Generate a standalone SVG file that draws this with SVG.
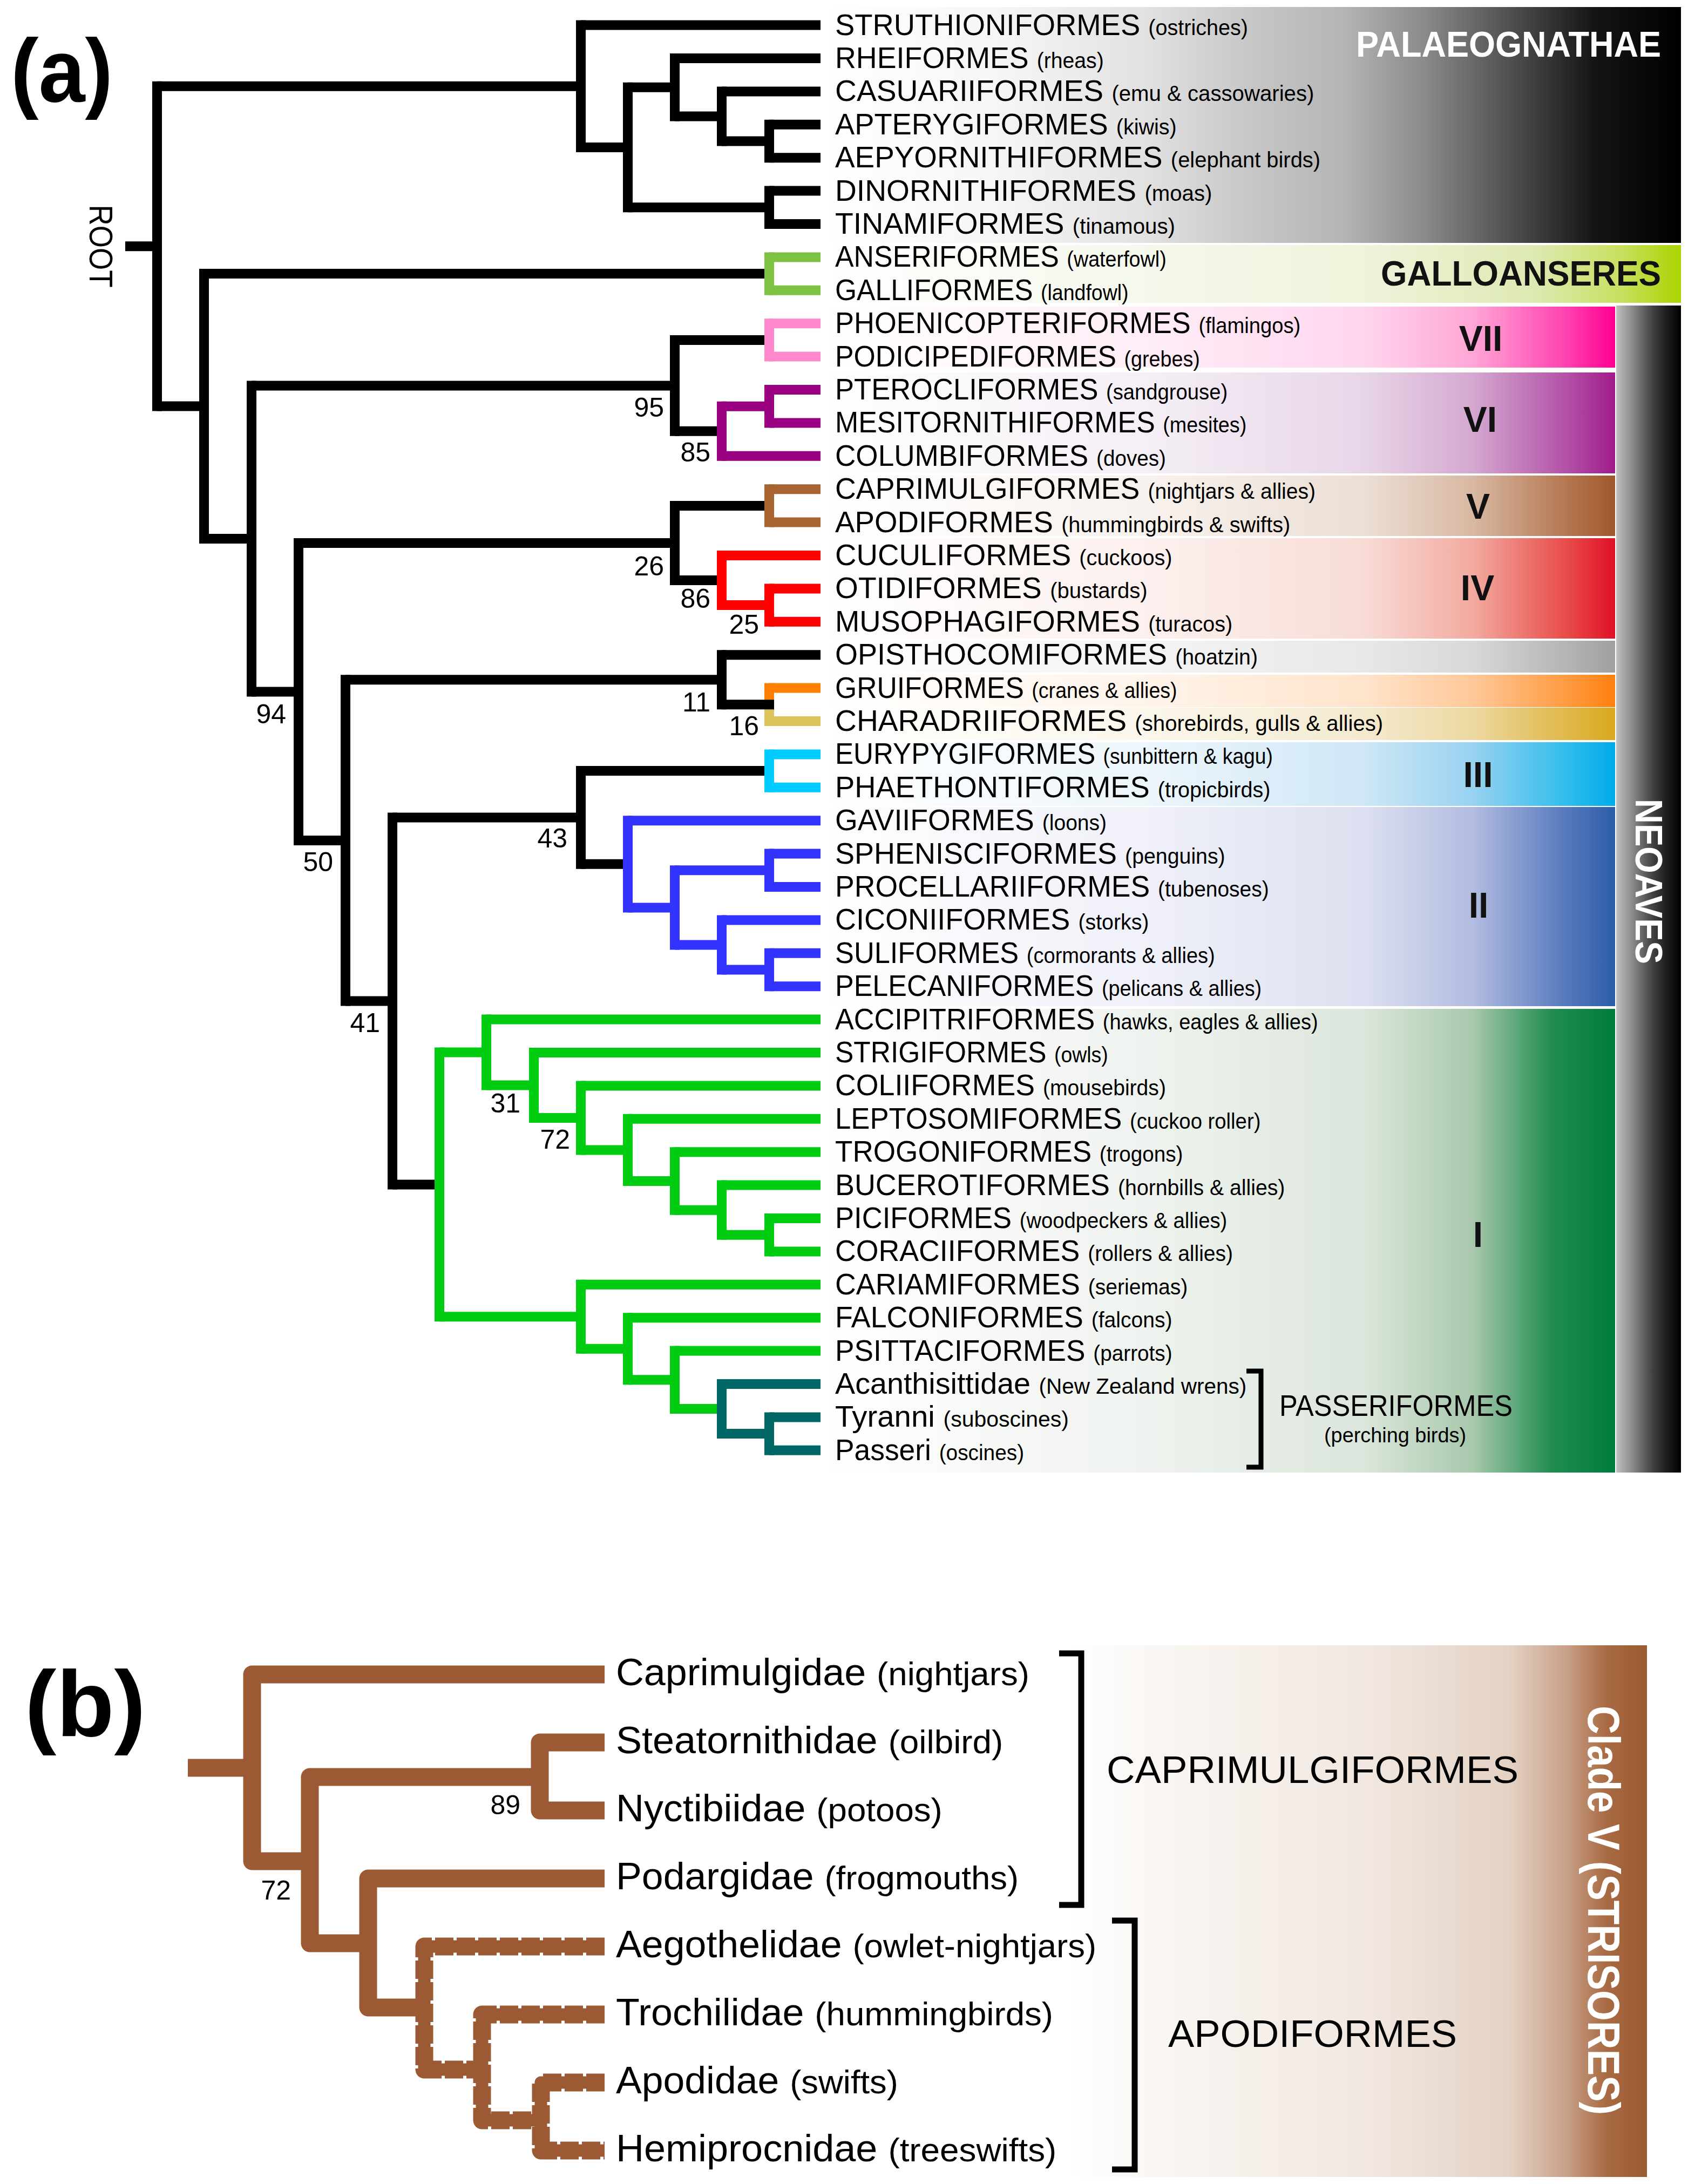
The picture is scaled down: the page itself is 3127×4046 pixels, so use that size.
<svg xmlns="http://www.w3.org/2000/svg" width="3127" height="4046" viewBox="0 0 3127 4046">
<style>
.t{font-family:"Liberation Sans",Arial,sans-serif}
.lf{font-size:55px;fill:#000}
.lf tspan{font-size:40px}
.lb{font-size:70px;fill:#000}
.lb tspan{font-size:62px}
.bs{font-size:50px;text-anchor:end;fill:#000}
.rn{font-size:66px;font-weight:bold;text-anchor:middle;fill:#111}
.h{fill:none;stroke-width:18;stroke-linecap:butt}
.v{fill:none;stroke-width:18;stroke-linecap:square}
.bt{fill:none;stroke:#9b5a33;stroke-width:33;stroke-linecap:butt;stroke-linejoin:round}
.bi{fill:none;stroke:#9b5a33;stroke-width:23;stroke-linecap:butt;stroke-linejoin:round}
.dot{stroke-dasharray:34 6}
.brk{fill:none;stroke:#000;stroke-linejoin:miter}
</style>
<defs>
<linearGradient id="gPal" gradientUnits="userSpaceOnUse" x1="1530" y1="0" x2="3114" y2="0">
<stop offset="0" stop-color="#fff"/><stop offset="0.2" stop-color="#f6f6f6"/><stop offset="0.37" stop-color="#e2e2e2"/><stop offset="0.5" stop-color="#c6c6c6"/><stop offset="0.6" stop-color="#b6b6b6"/><stop offset="0.7" stop-color="#8a8a8a"/><stop offset="0.8" stop-color="#505050"/><stop offset="0.9" stop-color="#141414"/><stop offset="1" stop-color="#000"/>
</linearGradient>
<linearGradient id="gGal" gradientUnits="userSpaceOnUse" x1="1530" y1="0" x2="3114" y2="0">
<stop offset="0" stop-color="#fff"/><stop offset="0.37" stop-color="#f5f8ec"/><stop offset="0.64" stop-color="#eef3da"/><stop offset="0.83" stop-color="#dde9b2"/><stop offset="0.93" stop-color="#c8e060"/><stop offset="1" stop-color="#aad400"/>
</linearGradient>
<linearGradient id="g7" gradientUnits="userSpaceOnUse" x1="1530" y1="0" x2="2992" y2="0">
<stop offset="0" stop-color="#fff"/><stop offset="0.4" stop-color="#ffeef7"/><stop offset="0.68" stop-color="#ffd6ee"/><stop offset="0.82" stop-color="#ffa6d6"/><stop offset="0.94" stop-color="#ff40b0"/><stop offset="1" stop-color="#ff0090"/>
</linearGradient>
<linearGradient id="g6" gradientUnits="userSpaceOnUse" x1="1530" y1="0" x2="2992" y2="0">
<stop offset="0" stop-color="#fff"/><stop offset="0.4" stop-color="#f5eff6"/><stop offset="0.68" stop-color="#e8d6e8"/><stop offset="0.82" stop-color="#d4a8d0"/><stop offset="0.94" stop-color="#b250a6"/><stop offset="1" stop-color="#a01c8a"/>
</linearGradient>
<linearGradient id="g5" gradientUnits="userSpaceOnUse" x1="1530" y1="0" x2="2992" y2="0">
<stop offset="0" stop-color="#fff"/><stop offset="0.4" stop-color="#f8f2ee"/><stop offset="0.68" stop-color="#ecdfd5"/><stop offset="0.82" stop-color="#d8b8a2"/><stop offset="0.94" stop-color="#b47650"/><stop offset="1" stop-color="#a0582c"/>
</linearGradient>
<linearGradient id="g4" gradientUnits="userSpaceOnUse" x1="1530" y1="0" x2="2992" y2="0">
<stop offset="0" stop-color="#fff"/><stop offset="0.4" stop-color="#fcf1ef"/><stop offset="0.68" stop-color="#f8dcd6"/><stop offset="0.82" stop-color="#f2aaa0"/><stop offset="0.94" stop-color="#e84a48"/><stop offset="1" stop-color="#e01028"/>
</linearGradient>
<linearGradient id="gHo" gradientUnits="userSpaceOnUse" x1="1530" y1="0" x2="2992" y2="0">
<stop offset="0" stop-color="#fff"/><stop offset="0.4" stop-color="#f4f4f4"/><stop offset="0.68" stop-color="#e8e8e8"/><stop offset="0.82" stop-color="#d8d8d8"/><stop offset="0.94" stop-color="#b4b4b4"/><stop offset="1" stop-color="#a0a0a0"/>
</linearGradient>
<linearGradient id="gOr" gradientUnits="userSpaceOnUse" x1="1530" y1="0" x2="2992" y2="0">
<stop offset="0" stop-color="#fff"/><stop offset="0.4" stop-color="#fff4ea"/><stop offset="0.68" stop-color="#ffe4cc"/><stop offset="0.82" stop-color="#ffc898"/><stop offset="0.94" stop-color="#ff9a40"/><stop offset="1" stop-color="#ff8010"/>
</linearGradient>
<linearGradient id="gYe" gradientUnits="userSpaceOnUse" x1="1530" y1="0" x2="2992" y2="0">
<stop offset="0" stop-color="#fff"/><stop offset="0.4" stop-color="#fbf7ec"/><stop offset="0.68" stop-color="#f4ead0"/><stop offset="0.82" stop-color="#ecd8a0"/><stop offset="0.94" stop-color="#e0b848"/><stop offset="1" stop-color="#d8a820"/>
</linearGradient>
<linearGradient id="g3" gradientUnits="userSpaceOnUse" x1="1530" y1="0" x2="2992" y2="0">
<stop offset="0" stop-color="#fff"/><stop offset="0.4" stop-color="#edf6fb"/><stop offset="0.68" stop-color="#cfe7f6"/><stop offset="0.82" stop-color="#98d2f0"/><stop offset="0.94" stop-color="#30bcec"/><stop offset="1" stop-color="#00acea"/>
</linearGradient>
<linearGradient id="g2" gradientUnits="userSpaceOnUse" x1="1530" y1="0" x2="2992" y2="0">
<stop offset="0" stop-color="#fff"/><stop offset="0.4" stop-color="#f0f1f9"/><stop offset="0.68" stop-color="#dde0f0"/><stop offset="0.82" stop-color="#b2bce0"/><stop offset="0.94" stop-color="#5478bc"/><stop offset="1" stop-color="#2c5ca8"/>
</linearGradient>
<linearGradient id="g1" gradientUnits="userSpaceOnUse" x1="1530" y1="0" x2="2992" y2="0">
<stop offset="0" stop-color="#fff"/><stop offset="0.4" stop-color="#eff3ef"/><stop offset="0.68" stop-color="#dce6dc"/><stop offset="0.82" stop-color="#a8c8ac"/><stop offset="0.92" stop-color="#208c50"/><stop offset="1" stop-color="#007c3c"/>
</linearGradient>
<linearGradient id="gNeo" gradientUnits="userSpaceOnUse" x1="2994" y1="0" x2="3114" y2="0">
<stop offset="0" stop-color="#c0c0c0"/><stop offset="0.25" stop-color="#8a8a8a"/><stop offset="0.55" stop-color="#444"/><stop offset="0.8" stop-color="#1a1a1a"/><stop offset="1" stop-color="#000"/>
</linearGradient>
<linearGradient id="gV" gradientUnits="userSpaceOnUse" x1="1985" y1="0" x2="3051" y2="0">
<stop offset="0" stop-color="#fff"/><stop offset="0.13" stop-color="#faf7f4"/><stop offset="0.52" stop-color="#f1e7e0"/><stop offset="0.76" stop-color="#e4d2c4"/><stop offset="0.86" stop-color="#c8a088"/><stop offset="0.93" stop-color="#a86a42"/><stop offset="1" stop-color="#9a5a32"/>
</linearGradient>
</defs>
<rect width="3127" height="4046" fill="#fff"/>

<g id="bands">
<rect x="1530" y="13" width="1584" height="437" fill="url(#gPal)"/>
<rect x="1530" y="454" width="1584" height="107" fill="url(#gGal)"/>
<rect x="1530" y="568" width="1462" height="113" fill="url(#g7)"/>
<rect x="1530" y="690" width="1462" height="187" fill="url(#g6)"/>
<rect x="1530" y="881" width="1462" height="112" fill="url(#g5)"/>
<rect x="1530" y="997" width="1462" height="186" fill="url(#g4)"/>
<rect x="1530" y="1187" width="1462" height="59" fill="url(#gHo)"/>
<rect x="1530" y="1250" width="1462" height="60" fill="url(#gOr)"/>
<rect x="1530" y="1311" width="1462" height="60" fill="url(#gYe)"/>
<rect x="1530" y="1375" width="1462" height="118" fill="url(#g3)"/>
<rect x="1530" y="1495" width="1462" height="369" fill="url(#g2)"/>
<rect x="1530" y="1869" width="1462" height="859" fill="url(#g1)"/>
<rect x="2994" y="566" width="120" height="2162" fill="url(#gNeo)"/>
<rect x="1985" y="3048" width="1066" height="985" fill="url(#gV)"/>
</g>

<g id="group-labels" class="t">
<text x="2512" y="105" font-size="66" font-weight="bold" fill="#fff" textLength="565" lengthAdjust="spacingAndGlyphs">PALAEOGNATHAE</text>
<text x="2558" y="529" font-size="64" font-weight="bold" fill="#111" textLength="519" lengthAdjust="spacingAndGlyphs">GALLOANSERES</text>
<text class="rn" x="2743" y="650">VII</text>
<text class="rn" x="2742" y="800">VI</text>
<text class="rn" x="2738" y="961">V</text>
<text class="rn" x="2737" y="1112">IV</text>
<text class="rn" x="2738" y="1458">III</text>
<text class="rn" x="2739" y="1700">II</text>
<text class="rn" x="2738" y="2310">I</text>
<text transform="translate(3030,1633) rotate(90)" font-size="70" font-weight="bold" fill="#fff" text-anchor="middle" textLength="306" lengthAdjust="spacingAndGlyphs">NEOAVES</text>
<text x="2370" y="2623" font-size="56" textLength="432" lengthAdjust="spacingAndGlyphs">PASSERIFORMES</text>
<text x="2453" y="2672" font-size="38" textLength="263" lengthAdjust="spacingAndGlyphs">(perching birds)</text>
<text transform="translate(2942,3539) rotate(90)" font-size="84" font-weight="bold" fill="#fff" text-anchor="middle" textLength="758" lengthAdjust="spacingAndGlyphs">Clade V (STRISORES)</text>
<text x="2050" y="3303" font-size="70" textLength="763" lengthAdjust="spacingAndGlyphs">CAPRIMULGIFORMES</text>
<text x="2164" y="3792" font-size="70" textLength="535" lengthAdjust="spacingAndGlyphs">APODIFORMES</text>
<text x="20" y="188" font-size="165" font-weight="bold" textLength="189" lengthAdjust="spacingAndGlyphs">(a)</text>
<text x="46" y="3216" font-size="172" font-weight="bold" textLength="224" lengthAdjust="spacingAndGlyphs">(b)</text>
<text transform="translate(166,456) rotate(90)" font-size="62" text-anchor="middle" textLength="153" lengthAdjust="spacingAndGlyphs">ROOT</text>
</g>

<g id="brackets">
<path class="brk" stroke-width="9" d="M2309 2540H2336V2718H2309"/>
<path class="brk" stroke-width="11" d="M1962 3063H2003V3529H1962"/>
<path class="brk" stroke-width="11" d="M2060 3558H2102V4019H2060"/>
</g>

<g id="connectors">
<path class="h" stroke="#000" d="M232 456.2H291M291 159.8H1076M291 752.5H378M1076 46.6H1520M1076 273H1163M1163 161.7H1250M1163 384.3H1425M1250 108H1520M1250 215.5H1337M1337 169.4H1520M1337 261.5H1425M1425 230.8H1520M1425 292.2H1520M1425 353.6H1520M1425 415H1520M378 507.1H1425M378 997.9H466M466 714.4H1250M466 1281.4H553M1250 629.9H1425M1250 798.8H1337M553 1006H1250M553 1556.9H640M1250 936.9H1425M1250 1075H1337M640 1259.2H1337M640 1854.5H727M1337 1213.2H1520M727 1514.5H1076M727 2194.4H814M1076 1428.1H1425M1076 1600.8H1163"/>
<path class="h" stroke="#7dc242" d="M1425 476.4H1520M1425 537.8H1520"/>
<path class="h" stroke="#ff88cc" d="M1425 599.2H1520M1425 660.6H1520"/>
<path class="h" stroke="#990080" d="M1337 752.7H1425M1337 844.8H1520M1425 722H1520M1425 783.4H1520"/>
<path class="h" stroke="#a86430" d="M1425 906.2H1520M1425 967.6H1520"/>
<path class="h" stroke="#ff0000" d="M1337 1029H1520M1337 1121.1H1425M1425 1090.4H1520M1425 1151.8H1520"/>
<path class="h" stroke="#ff8000" d="M1425 1274.6H1520"/>
<path class="h" stroke="#dcc35a" d="M1425 1336H1520"/>
<path class="h" stroke="#00ccff" d="M1425 1397.4H1520M1425 1458.8H1520"/>
<path class="h" stroke="#3333ff" d="M1163 1520.2H1520M1163 1681.4H1250M1250 1612.3H1425M1250 1750.5H1337M1425 1581.6H1520M1425 1643H1520M1337 1704.4H1520M1337 1796.5H1425M1425 1765.8H1520M1425 1827.2H1520"/>
<path class="h" stroke="#00cc11" d="M814 1949.5H901M814 2439.3H1076M901 1888.6H1520M901 2010.4H989M989 1950H1520M989 2070.9H1076M1076 2011.4H1520M1076 2130.4H1163M1163 2072.8H1520M1163 2187.9H1250M1250 2134.2H1520M1250 2241.65H1337M1337 2195.6H1520M1337 2287.7H1425M1425 2257H1520M1425 2318.4H1520M1076 2379.8H1520M1076 2498.8H1163M1163 2441.2H1520M1163 2556.3H1250M1250 2502.6H1520M1250 2610H1337"/>
<path class="h" stroke="#006666" d="M1337 2564H1520M1337 2656.1H1425M1425 2625.4H1520M1425 2686.8H1520"/>
<path class="v" stroke="#000" d="M291 159.8V752.5M1076 46.6V273M1163 161.7V384.3M1250 108V215.5M1337 169.4V261.5M1425 230.8V292.2M1425 353.6V415M378 507.1V997.9M466 714.4V1281.4M1250 629.9V798.8M553 1006V1556.9M1250 936.9V1075M640 1259.2V1854.5M1337 1213.2V1305.3M727 1514.5V2194.4M1076 1428.1V1600.8"/>
<path class="v" stroke="#7dc242" d="M1425 476.4V537.8"/>
<path class="v" stroke="#ff88cc" d="M1425 599.2V660.6"/>
<path class="v" stroke="#990080" d="M1337 752.7V844.8M1425 722V783.4"/>
<path class="v" stroke="#a86430" d="M1425 906.2V967.6"/>
<path class="v" stroke="#ff0000" d="M1337 1029V1121.1M1425 1090.4V1151.8"/>
<path class="v" stroke="#ff8000" d="M1425 1274.6V1305.3"/>
<path class="v" stroke="#dcc35a" d="M1425 1305.3V1336"/>
<path class="v" stroke="#00ccff" d="M1425 1397.4V1458.8"/>
<path class="v" stroke="#3333ff" d="M1163 1520.2V1681.4M1250 1612.3V1750.5M1425 1581.6V1643M1337 1704.4V1796.5M1425 1765.8V1827.2"/>
<path class="v" stroke="#00cc11" d="M814 1949.5V2439.3M901 1888.6V2010.4M989 1950V2070.9M1076 2011.4V2130.4M1163 2072.8V2187.9M1250 2134.2V2241.65M1337 2195.6V2287.7M1425 2257V2318.4M1076 2379.8V2498.8M1163 2441.2V2556.3M1250 2502.6V2610"/>
<path class="v" stroke="#006666" d="M1337 2564V2656.1M1425 2625.4V2686.8"/>
<path class="h" stroke="#000" d="M1337 1305.3H1434"/>
<path class="bt" d="M348 3275H467M1120 3102H467V3448H574M1000 3292H574V3600H682M1120 3228H1000V3354H1120M1120 3480H682V3719H786"/>
<path class="bi" d="M1120 3606H786V3834H893M1120 3732H893V3928H1002M1120 3858H1002V3984H1120"/>
<path class="bt dot" d="M1120 3606H786V3834H893"/>
<path class="bt dot" d="M1120 3732H893V3928H1002"/>
<path class="bt dot" d="M1120 3858H1002V3984H1120"/>
</g>

<g id="support" class="t">
<text class="bs" x="1230" y="772">95</text>
<text class="bs" x="1316" y="855">85</text>
<text class="bs" x="1230" y="1066">26</text>
<text class="bs" x="1316" y="1126">86</text>
<text class="bs" x="1406" y="1174">25</text>
<text class="bs" x="530" y="1340">94</text>
<text class="bs" x="1316" y="1318">11</text>
<text class="bs" x="1406" y="1362">16</text>
<text class="bs" x="617" y="1614">50</text>
<text class="bs" x="1051" y="1570">43</text>
<text class="bs" x="704" y="1912">41</text>
<text class="bs" x="964" y="2061">31</text>
<text class="bs" x="1056" y="2128">72</text>
<text class="bs" x="964" y="3361">89</text>
<text class="bs" x="539" y="3519">72</text>
</g>

<g id="leaves-a" class="t" transform="translate(1547 0) scale(0.9 1)">
<g id="struthioniformes"><text class="lf" x="0" y="65" textLength="850" lengthAdjust="spacingAndGlyphs">STRUTHIONIFORMES <tspan>(ostriches)</tspan></text></g>
<g id="rheiformes"><text class="lf" x="0" y="126" textLength="553" lengthAdjust="spacingAndGlyphs">RHEIFORMES <tspan>(rheas)</tspan></text></g>
<g id="casuariiformes"><text class="lf" x="0" y="187" textLength="986" lengthAdjust="spacingAndGlyphs">CASUARIIFORMES <tspan>(emu &amp; cassowaries)</tspan></text></g>
<g id="apterygiformes"><text class="lf" x="0" y="249" textLength="703" lengthAdjust="spacingAndGlyphs">APTERYGIFORMES <tspan>(kiwis)</tspan></text></g>
<g id="aepyornithiformes"><text class="lf" x="0" y="310" textLength="999" lengthAdjust="spacingAndGlyphs">AEPYORNITHIFORMES <tspan>(elephant birds)</tspan></text></g>
<g id="dinornithiformes"><text class="lf" x="0" y="372" textLength="776" lengthAdjust="spacingAndGlyphs">DINORNITHIFORMES <tspan>(moas)</tspan></text></g>
<g id="tinamiformes"><text class="lf" x="0" y="433" textLength="700" lengthAdjust="spacingAndGlyphs">TINAMIFORMES <tspan>(tinamous)</tspan></text></g>
<g id="anseriformes"><text class="lf" x="0" y="494" textLength="682" lengthAdjust="spacingAndGlyphs">ANSERIFORMES <tspan>(waterfowl)</tspan></text></g>
<g id="galliformes"><text class="lf" x="0" y="556" textLength="604" lengthAdjust="spacingAndGlyphs">GALLIFORMES <tspan>(landfowl)</tspan></text></g>
<g id="phoenicopteriformes"><text class="lf" x="0" y="617" textLength="958" lengthAdjust="spacingAndGlyphs">PHOENICOPTERIFORMES <tspan>(flamingos)</tspan></text></g>
<g id="podicipediformes"><text class="lf" x="0" y="679" textLength="751" lengthAdjust="spacingAndGlyphs">PODICIPEDIFORMES <tspan>(grebes)</tspan></text></g>
<g id="pterocliformes"><text class="lf" x="0" y="740" textLength="808" lengthAdjust="spacingAndGlyphs">PTEROCLIFORMES <tspan>(sandgrouse)</tspan></text></g>
<g id="mesitornithiformes"><text class="lf" x="0" y="801" textLength="847" lengthAdjust="spacingAndGlyphs">MESITORNITHIFORMES <tspan>(mesites)</tspan></text></g>
<g id="columbiformes"><text class="lf" x="0" y="863" textLength="681" lengthAdjust="spacingAndGlyphs">COLUMBIFORMES <tspan>(doves)</tspan></text></g>
<g id="caprimulgiformes"><text class="lf" x="0" y="924" textLength="989" lengthAdjust="spacingAndGlyphs">CAPRIMULGIFORMES <tspan>(nightjars &amp; allies)</tspan></text></g>
<g id="apodiformes"><text class="lf" x="0" y="986" textLength="937" lengthAdjust="spacingAndGlyphs">APODIFORMES <tspan>(hummingbirds &amp; swifts)</tspan></text></g>
<g id="cuculiformes"><text class="lf" x="0" y="1047" textLength="694" lengthAdjust="spacingAndGlyphs">CUCULIFORMES <tspan>(cuckoos)</tspan></text></g>
<g id="otidiformes"><text class="lf" x="0" y="1108" textLength="643" lengthAdjust="spacingAndGlyphs">OTIDIFORMES <tspan>(bustards)</tspan></text></g>
<g id="musophagiformes"><text class="lf" x="0" y="1170" textLength="818" lengthAdjust="spacingAndGlyphs">MUSOPHAGIFORMES <tspan>(turacos)</tspan></text></g>
<g id="opisthocomiformes"><text class="lf" x="0" y="1231" textLength="870" lengthAdjust="spacingAndGlyphs">OPISTHOCOMIFORMES <tspan>(hoatzin)</tspan></text></g>
<g id="gruiformes"><text class="lf" x="0" y="1293" textLength="704" lengthAdjust="spacingAndGlyphs">GRUIFORMES <tspan>(cranes &amp; allies)</tspan></text></g>
<g id="charadriiformes"><text class="lf" x="0" y="1354" textLength="1128" lengthAdjust="spacingAndGlyphs">CHARADRIIFORMES <tspan>(shorebirds, gulls &amp; allies)</tspan></text></g>
<g id="eurypygiformes"><text class="lf" x="0" y="1415" textLength="901" lengthAdjust="spacingAndGlyphs">EURYPYGIFORMES <tspan>(sunbittern &amp; kagu)</tspan></text></g>
<g id="phaethontiformes"><text class="lf" x="0" y="1477" textLength="896" lengthAdjust="spacingAndGlyphs">PHAETHONTIFORMES <tspan>(tropicbirds)</tspan></text></g>
<g id="gaviiformes"><text class="lf" x="0" y="1538" textLength="559" lengthAdjust="spacingAndGlyphs">GAVIIFORMES <tspan>(loons)</tspan></text></g>
<g id="sphenisciformes"><text class="lf" x="0" y="1600" textLength="803" lengthAdjust="spacingAndGlyphs">SPHENISCIFORMES <tspan>(penguins)</tspan></text></g>
<g id="procellariiformes"><text class="lf" x="0" y="1661" textLength="893" lengthAdjust="spacingAndGlyphs">PROCELLARIIFORMES <tspan>(tubenoses)</tspan></text></g>
<g id="ciconiiformes"><text class="lf" x="0" y="1722" textLength="646" lengthAdjust="spacingAndGlyphs">CICONIIFORMES <tspan>(storks)</tspan></text></g>
<g id="suliformes"><text class="lf" x="0" y="1784" textLength="782" lengthAdjust="spacingAndGlyphs">SULIFORMES <tspan>(cormorants &amp; allies)</tspan></text></g>
<g id="pelecaniformes"><text class="lf" x="0" y="1845" textLength="878" lengthAdjust="spacingAndGlyphs">PELECANIFORMES <tspan>(pelicans &amp; allies)</tspan></text></g>
<g id="accipitriformes"><text class="lf" x="0" y="1907" textLength="994" lengthAdjust="spacingAndGlyphs">ACCIPITRIFORMES <tspan>(hawks, eagles &amp; allies)</tspan></text></g>
<g id="strigiformes"><text class="lf" x="0" y="1968" textLength="562" lengthAdjust="spacingAndGlyphs">STRIGIFORMES <tspan>(owls)</tspan></text></g>
<g id="coliiformes"><text class="lf" x="0" y="2029" textLength="681" lengthAdjust="spacingAndGlyphs">COLIIFORMES <tspan>(mousebirds)</tspan></text></g>
<g id="leptosomiformes"><text class="lf" x="0" y="2091" textLength="876" lengthAdjust="spacingAndGlyphs">LEPTOSOMIFORMES <tspan>(cuckoo roller)</tspan></text></g>
<g id="trogoniformes"><text class="lf" x="0" y="2152" textLength="716" lengthAdjust="spacingAndGlyphs">TROGONIFORMES <tspan>(trogons)</tspan></text></g>
<g id="bucerotiformes"><text class="lf" x="0" y="2214" textLength="926" lengthAdjust="spacingAndGlyphs">BUCEROTIFORMES <tspan>(hornbills &amp; allies)</tspan></text></g>
<g id="piciformes"><text class="lf" x="0" y="2275" textLength="807" lengthAdjust="spacingAndGlyphs">PICIFORMES <tspan>(woodpeckers &amp; allies)</tspan></text></g>
<g id="coraciiformes"><text class="lf" x="0" y="2336" textLength="819" lengthAdjust="spacingAndGlyphs">CORACIIFORMES <tspan>(rollers &amp; allies)</tspan></text></g>
<g id="cariamiformes"><text class="lf" x="0" y="2398" textLength="726" lengthAdjust="spacingAndGlyphs">CARIAMIFORMES <tspan>(seriemas)</tspan></text></g>
<g id="falconiformes"><text class="lf" x="0" y="2459" textLength="694" lengthAdjust="spacingAndGlyphs">FALCONIFORMES <tspan>(falcons)</tspan></text></g>
<g id="psittaciformes"><text class="lf" x="0" y="2521" textLength="694" lengthAdjust="spacingAndGlyphs">PSITTACIFORMES <tspan>(parrots)</tspan></text></g>
<g id="acanthisittidae"><text class="lf" x="0" y="2582" textLength="847" lengthAdjust="spacingAndGlyphs">Acanthisittidae <tspan>(New Zealand wrens)</tspan></text></g>
<g id="tyranni"><text class="lf" x="0" y="2643" textLength="481" lengthAdjust="spacingAndGlyphs">Tyranni <tspan>(suboscines)</tspan></text></g>
<g id="passeri"><text class="lf" x="0" y="2705" textLength="389" lengthAdjust="spacingAndGlyphs">Passeri <tspan>(oscines)</tspan></text></g>
</g>

<g id="leaves-b" class="t" transform="translate(1141 0) scale(0.9 1)">
<g id="caprimulgidae"><text class="lb" x="0" y="3122" textLength="851" lengthAdjust="spacingAndGlyphs">Caprimulgidae <tspan>(nightjars)</tspan></text></g>
<g id="steatornithidae"><text class="lb" x="0" y="3248" textLength="797" lengthAdjust="spacingAndGlyphs">Steatornithidae <tspan>(oilbird)</tspan></text></g>
<g id="nyctibiidae"><text class="lb" x="0" y="3374" textLength="672" lengthAdjust="spacingAndGlyphs">Nyctibiidae <tspan>(potoos)</tspan></text></g>
<g id="podargidae"><text class="lb" x="0" y="3500" textLength="829" lengthAdjust="spacingAndGlyphs">Podargidae <tspan>(frogmouths)</tspan></text></g>
<g id="aegothelidae"><text class="lb" x="0" y="3626" textLength="989" lengthAdjust="spacingAndGlyphs">Aegothelidae <tspan>(owlet-nightjars)</tspan></text></g>
<g id="trochilidae"><text class="lb" x="0" y="3752" textLength="900" lengthAdjust="spacingAndGlyphs">Trochilidae <tspan>(hummingbirds)</tspan></text></g>
<g id="apodidae"><text class="lb" x="0" y="3878" textLength="581" lengthAdjust="spacingAndGlyphs">Apodidae <tspan>(swifts)</tspan></text></g>
<g id="hemiprocnidae"><text class="lb" x="0" y="4004" textLength="907" lengthAdjust="spacingAndGlyphs">Hemiprocnidae <tspan>(treeswifts)</tspan></text></g>
</g>
</svg>
